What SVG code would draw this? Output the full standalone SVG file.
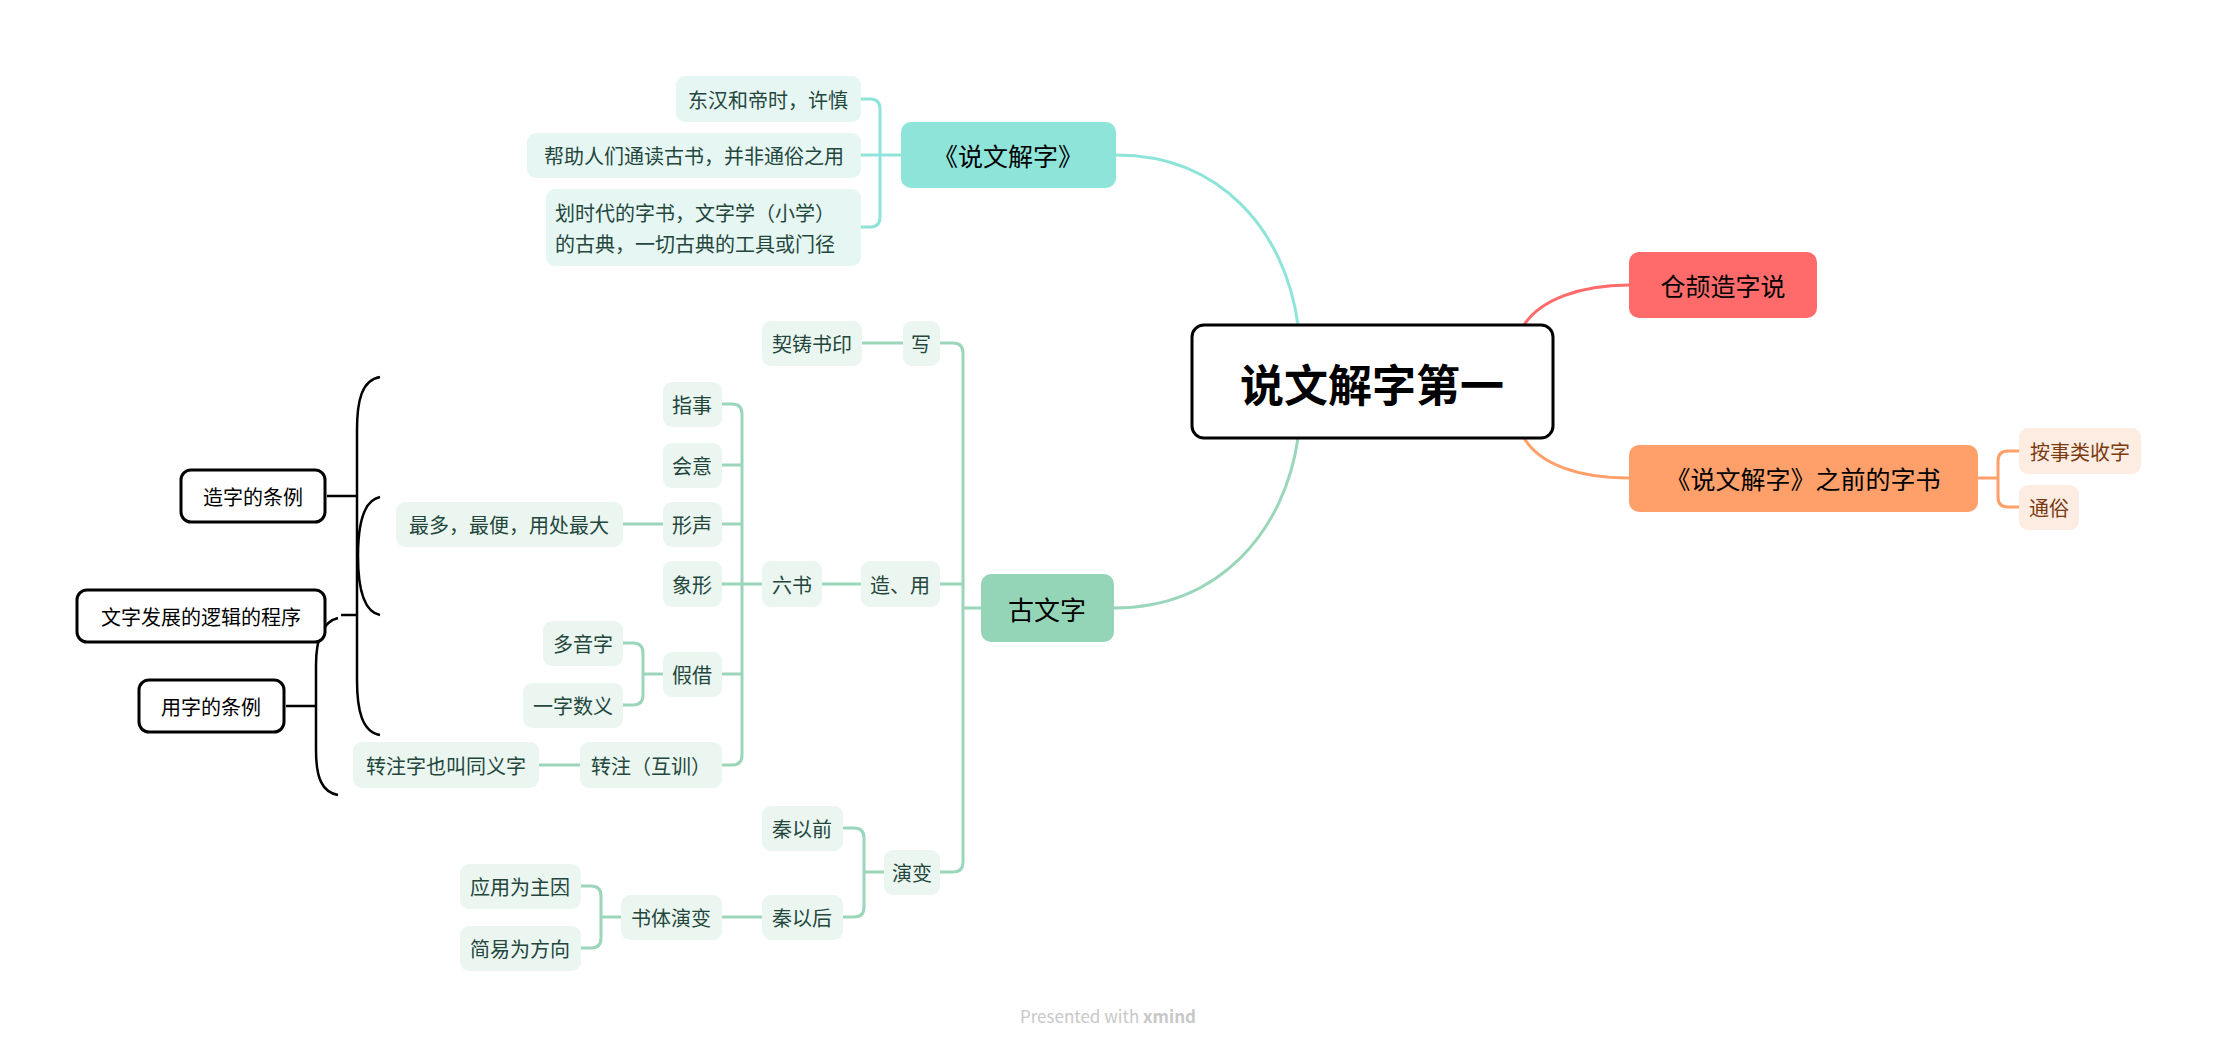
<svg xmlns="http://www.w3.org/2000/svg" width="2217" height="1048" viewBox="0 0 2217 1048">
<style>
text{font-family:"Noto Sans CJK SC","Noto Sans",sans-serif;dominant-baseline:central;text-anchor:middle}
.c{font-size:20px;fill:#24463d}
.m{font-size:25px;fill:#000}
.lt{fill:#e6f7f3}
.lg{fill:#eaf6ef}
.lo{fill:#fdece1}
.ct{fill:none;stroke:#8ee4d9;stroke-width:3}
.cg{fill:none;stroke:#9bd6bb;stroke-width:3}
.cr{fill:none;stroke:#ff6b6b;stroke-width:3}
.co{fill:none;stroke:#ffa06a;stroke-width:3}
.cb{fill:none;stroke:#000;stroke-width:2.5}
.ob{fill:#fff;stroke:#000;stroke-width:3}
</style>
<rect width="2217" height="1048" fill="#fff"/>
<g id="connectors">
<path class="ct" d="M1116,155 C1220,155 1285,230 1298,325"/>
<path class="cg" d="M1114,608 C1220,608 1285,530 1298,438"/>
<path class="cr" d="M1629,285 C1580,285 1540,300 1524,325"/>
<path class="co" d="M1629,478 C1580,478 1540,465 1524,438"/>
<path class="ct" d="M901,155 H861 M861,99 H870 Q880,99 880,109 V217 Q880,227 870,227 H861"/>
<path class="cg" d="M981,608 H963 M940,343 H953 Q963,343 963,353 V862 Q963,872 953,872 H940 M940,584 H963"/>
<path class="cg" d="M903,343 H862 M861,584 H822"/>
<path class="cg" d="M762,584 H722 M722,404 H732 Q742,404 742,414 V755 Q742,765 732,765 H722 M722,465 H742 M722,524 H742 M722,674 H742"/>
<path class="cg" d="M663,524 H623 M580,765 H539"/>
<path class="cg" d="M663,674 H643 M623,643 H633 Q643,643 643,653 V695 Q643,705 633,705 H623"/>
<path class="cg" d="M884,872 H864 M843,828 H854 Q864,828 864,838 V907 Q864,917 854,917 H843"/>
<path class="cg" d="M762,917 H722"/>
<path class="cg" d="M621,917 H601 M581,886 H591 Q601,886 601,896 V938 Q601,948 591,948 H581"/>
<path class="co" d="M1978,478 H1998 M2019,451 H2008 Q1998,451 1998,461 V497 Q1998,507 2008,507 H2019"/>
<path class="cb" d="M380,377 C362,380 357,400 357,430 L357,680 C357,710 362,732 380,735 M341,615 H357"/>
<path class="cb" d="M380,497 C365,500 358,520 358,556 C358,590 365,612 380,615 M327,496 H356"/>
<path class="cb" d="M338,618 C322,622 316,640 316,665 L316,750 C316,778 322,792 338,795 M286,706 H316"/>
</g>
<g id="central"><rect class="ob" x="1192" y="325" width="361" height="113" rx="12"/><text x="1372" y="383" style="font-size:44px;font-weight:bold">说文解字第一</text></g>
<g id="shuowen"><rect x="901" y="122" width="215" height="66" rx="10" fill="#8ee4d9"/><text class="m" x="1008" y="155">《说文解字》</text></g>
<g id="cangjie"><rect x="1629" y="252" width="188" height="66" rx="10" fill="#ff6b6b"/><text class="m" x="1723" y="285">仓颉造字说</text></g>
<g id="zhiqian"><rect x="1629" y="445" width="349" height="67" rx="10" fill="#ffa06a"/><text class="m" x="1803" y="478">《说文解字》之前的字书</text></g>
<g id="guwenzi"><rect x="981" y="574" width="133" height="68" rx="10" fill="#95d5b7"/><text class="m" x="1047" y="608" style="font-size:26px">古文字</text></g>
<g id="n1"><rect class="lt" x="676" y="76" width="185" height="46" rx="9"/><text class="c" x="768" y="99">东汉和帝时，许慎</text></g>
<g id="n2"><rect class="lt" x="527" y="133" width="334" height="45" rx="9"/><text class="c" x="694" y="155">帮助人们通读古书，并非通俗之用</text></g>
<g id="n3"><rect class="lt" x="546" y="189" width="315" height="77" rx="9"/><text class="c" x="555" y="212" style="text-anchor:start">划时代的字书，文字学（小学）</text><text class="c" x="555" y="243" style="text-anchor:start">的古典，一切古典的工具或门径</text></g>
<g id="anshilei"><rect class="lo" x="2019" y="428" width="122" height="46" rx="9"/><text class="c" x="2080" y="451" style="fill:#7a3b12">按事类收字</text></g>
<g id="tongsu"><rect class="lo" x="2019" y="485" width="60" height="45" rx="9"/><text class="c" x="2049" y="507" style="fill:#7a3b12">通俗</text></g>
<g id="xie"><rect class="lg" x="903" y="321" width="37" height="45" rx="9"/><text class="c" x="921" y="343">写</text></g>
<g id="qizhu"><rect class="lg" x="762" y="321" width="100" height="45" rx="9"/><text class="c" x="812" y="343">契铸书印</text></g>
<g id="zaoyong"><rect class="lg" x="861" y="561" width="79" height="46" rx="9"/><text class="c" x="900" y="584">造、用</text></g>
<g id="liushu"><rect class="lg" x="762" y="561" width="60" height="46" rx="9"/><text class="c" x="792" y="584">六书</text></g>
<g id="zhishi"><rect class="lg" x="663" y="382" width="59" height="45" rx="9"/><text class="c" x="692" y="404">指事</text></g>
<g id="huiyi"><rect class="lg" x="663" y="443" width="59" height="45" rx="9"/><text class="c" x="692" y="465">会意</text></g>
<g id="xingsheng"><rect class="lg" x="663" y="502" width="59" height="45" rx="9"/><text class="c" x="692" y="524">形声</text></g>
<g id="zuiduo"><rect class="lg" x="396" y="502" width="227" height="45" rx="9"/><text class="c" x="509" y="524">最多，最便，用处最大</text></g>
<g id="xiangxing"><rect class="lg" x="663" y="561" width="59" height="46" rx="9"/><text class="c" x="692" y="584">象形</text></g>
<g id="jiajie"><rect class="lg" x="663" y="652" width="59" height="45" rx="9"/><text class="c" x="692" y="674">假借</text></g>
<g id="duoyin"><rect class="lg" x="543" y="621" width="80" height="45" rx="9"/><text class="c" x="583" y="643">多音字</text></g>
<g id="yizi"><rect class="lg" x="523" y="683" width="100" height="45" rx="9"/><text class="c" x="573" y="705">一字数义</text></g>
<g id="zhuanzhu"><rect class="lg" x="580" y="742" width="142" height="46" rx="9"/><text class="c" x="651" y="765">转注（互训）</text></g>
<g id="zhuanzhuzi"><rect class="lg" x="353" y="742" width="186" height="46" rx="9"/><text class="c" x="446" y="765">转注字也叫同义字</text></g>
<g id="yanbian"><rect class="lg" x="884" y="850" width="56" height="45" rx="9"/><text class="c" x="912" y="872">演变</text></g>
<g id="qinqian"><rect class="lg" x="762" y="806" width="81" height="45" rx="9"/><text class="c" x="802" y="828">秦以前</text></g>
<g id="qinhou"><rect class="lg" x="762" y="895" width="81" height="45" rx="9"/><text class="c" x="802" y="917">秦以后</text></g>
<g id="shuti"><rect class="lg" x="621" y="895" width="101" height="45" rx="9"/><text class="c" x="671" y="917">书体演变</text></g>
<g id="yingyong"><rect class="lg" x="460" y="864" width="121" height="45" rx="9"/><text class="c" x="520" y="886">应用为主因</text></g>
<g id="jianyi"><rect class="lg" x="460" y="926" width="121" height="45" rx="9"/><text class="c" x="520" y="948">简易为方向</text></g>
<g id="zaozi"><rect class="ob" x="181" y="470" width="144" height="52" rx="10"/><text class="c" x="253" y="496" style="fill:#000">造字的条例</text></g>
<g id="fazhan"><rect class="ob" x="77" y="590" width="248" height="52" rx="10"/><text class="c" x="201" y="616" style="fill:#000">文字发展的逻辑的程序</text></g>
<g id="yongzi"><rect class="ob" x="139" y="680" width="145" height="52" rx="10"/><text class="c" x="211" y="706" style="fill:#000">用字的条例</text></g>
<text x="1108" y="1015" style="font-size:17px;fill:#c8c8c8">Presented with <tspan font-weight="bold">xmind</tspan></text>
</svg>
